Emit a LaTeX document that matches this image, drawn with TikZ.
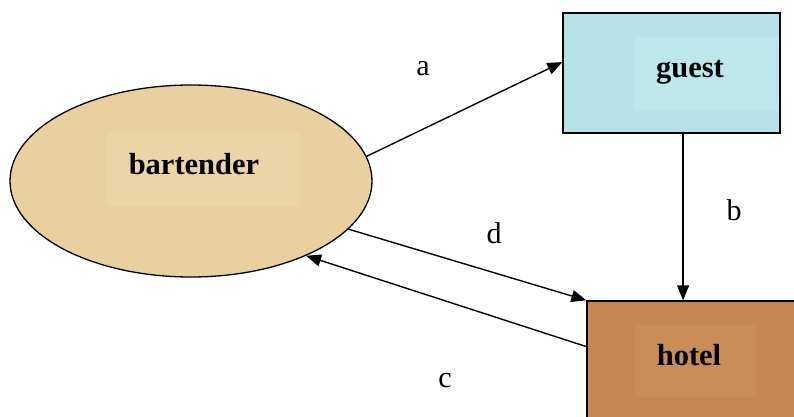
\documentclass[tikz,border=0pt]{standalone}
\usepackage{fontspec}
\setmainfont{Liberation Serif}
\usetikzlibrary{arrows.meta,calc,shapes.geometric}
\definecolor{tanc}{HTML}{E8D19E}
\definecolor{tanin}{HTML}{EBD5A6}
\definecolor{guestc}{HTML}{B6E2EA}
\definecolor{guestin}{HTML}{BEE6ED}
\definecolor{hotelc}{HTML}{C68852}
\definecolor{hotelin}{HTML}{C98D5A}
\begin{document}
\begin{tikzpicture}[x=1pt,y=-1pt,
  conn/.style={line width=1.4pt,-{Triangle[length=15pt,width=12pt]}},
  lbl/.style={font=\fontsize{30}{30}\selectfont, anchor=base, inner sep=0},
  nametxt/.style={font=\bfseries\fontsize{30.5}{30}\selectfont, anchor=base, inner sep=0},
  shapebox/.style={draw, line width=1.3pt, inner sep=0}]
\clip (0,0) rectangle (794,417);
% bartender
\node[shapebox, ellipse, fill=tanc, minimum width=362pt, minimum height=192pt] (bart) at (191,181) {};
\fill[tanin] (107,133) rectangle (300,206);
\node[nametxt] (barttext) at (194,174) {bartender};
% guest
\node[shapebox, rectangle, fill=guestc, minimum width=217pt, minimum height=120pt] (guest) at (671.5,73) {};
\fill[guestin] (635,37) rectangle (779,110);
\node[nametxt] (guesttext) at (690,78) {guest};
% hotel
\node[shapebox, rectangle, fill=hotelc, minimum width=213pt, minimum height=129pt] (hotel) at (693.5,365.5) {};
\fill[hotelin] (635,325) rectangle (756,397);
\node[nametxt] (hoteltext) at (689,365) {hotel};
% connectors
\coordinate (bt) at ($(guest.south west)!0.553!(guest.south east)$);
\draw[conn] (bart.8) -- ($(guest.north west)!0.41!(guest.south west)$);
\draw[conn] (bt) -- (bt |- hotel.north);
\draw[conn] (bart.-17) -- (hotel.north west);
\draw[conn] ($(hotel.north west)!0.355!(hotel.south west)$) -- (bart.-33);
% labels
\node[lbl] (la) at (423,76) {a};
\node[lbl] (lb) at (734,220) {b};
\node[lbl] (ld) at (494,243) {d};
\node[lbl] (lc) at (445,387) {c};
\end{tikzpicture}
\end{document}
